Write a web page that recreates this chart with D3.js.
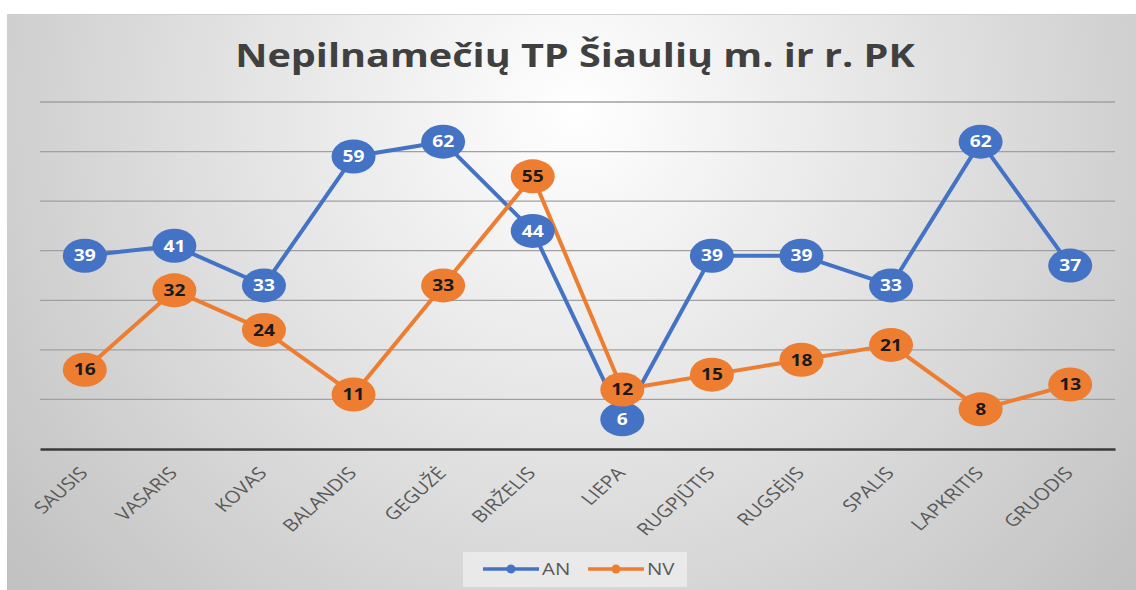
<!DOCTYPE html>
<html>
<head>
<meta charset="utf-8">
<script src="https://cdn.jsdelivr.net/npm/d3@7"></script>
<style>
  body { margin: 0; background: #fff; }
  svg { display: block; font-family: "Open Sans", "Liberation Sans", sans-serif; }
</style>
</head>
<body>
<div id="chart"></div>
<script>
var svgWidth = 1136;
var svgHeight = 590;

var margin = { top: 102, right: 21, bottom: 141, left: 40 };
var width = svgWidth - margin.left - margin.right;
var height = svgHeight - margin.top - margin.bottom;

// data
var months = ["SAUSIS", "VASARIS", "KOVAS", "BALANDIS", "GEGUŽĖ", "BIRŽELIS",
  "LIEPA", "RUGPJŪTIS", "RUGSĖJIS", "SPALIS", "LAPKRITIS", "GRUODIS"];
var anValues = [39, 41, 33, 59, 62, 44, 6, 39, 39, 33, 62, 37];
var nvValues = [16, 32, 24, 11, 33, 55, 12, 15, 18, 21, 8, 13];
var yTicks = [10, 20, 30, 40, 50, 60, 70];

var series = [
  { name: "AN", values: anValues, color: "#4472C4", labelColor: "#ffffff" },
  { name: "NV", values: nvValues, color: "#ED7D31", labelColor: "#1a1a1a" }
];

// the original picture is stretched sideways a little
var stretch = 1.2;

var svg = d3.select("#chart")
  .append("svg")
  .attr("width", svgWidth)
  .attr("height", svgHeight);

// background gradient
var defs = svg.append("defs");
var grad = defs.append("radialGradient")
  .attr("id", "bg")
  .attr("gradientUnits", "userSpaceOnUse")
  .attr("cx", 575).attr("cy", 110).attr("r", 720);
grad.append("stop").attr("offset", "0%").attr("stop-color", "#ffffff");
grad.append("stop").attr("offset", "45%").attr("stop-color", "#e4e4e4");
grad.append("stop").attr("offset", "100%").attr("stop-color", "#c2c2c2");

svg.append("rect")
  .attr("x", 7).attr("y", 14)
  .attr("width", svgWidth - 7).attr("height", svgHeight - 14)
  .attr("fill", "url(#bg)");
svg.append("line")
  .attr("x1", 7).attr("x2", svgWidth).attr("y1", 14.5).attr("y2", 14.5)
  .attr("stroke", "#d0d0d0").attr("stroke-width", 1);

// title
svg.append("text")
  .attr("transform", `translate(575, 67) scale(${stretch}, 1)`)
  .attr("text-anchor", "middle")
  .attr("font-size", 33)
  .attr("font-weight", "bold")
  .attr("fill", "#404040")
  .text("Nepilnamečių TP Šiaulių m. ir r. PK");

var chartGroup = svg.append("g")
  .attr("transform", `translate(${margin.left}, ${margin.top})`);

var xScale = d3.scaleBand()
  .domain(months)
  .range([0, width]);

var yScale = d3.scaleLinear()
  .domain([0, 70])
  .range([height, 0]);

// gridlines
chartGroup.append("g")
  .selectAll("line")
  .data(yTicks)
  .enter()
  .append("line")
  .attr("x1", 0).attr("x2", width)
  .attr("y1", d => yScale(d)).attr("y2", d => yScale(d))
  .attr("stroke", "#a0a0a0")
  .attr("stroke-width", 1.3);

// x axis
var bottomAxis = d3.axisBottom(xScale).tickSize(0).tickPadding(0);
var xAxis = chartGroup.append("g")
  .attr("transform", `translate(0, ${height})`)
  .call(bottomAxis);
xAxis.select(".domain")
  .attr("stroke", "#3a3a3a")
  .attr("stroke-width", 2.5);
xAxis.selectAll("text")
  .attr("font-family", "Open Sans, sans-serif")
  .attr("font-size", 17)
  .attr("fill", "#595959")
  .attr("text-anchor", "end")
  .attr("dy", 0)
  .attr("transform", `translate(4, 25) scale(${stretch}, 1) rotate(-47)`);

// lines
var line = d3.line()
  .x((d, i) => xScale(months[i]) + xScale.bandwidth() / 2)
  .y(d => yScale(d));

chartGroup.selectAll(".series-line")
  .data(series)
  .enter()
  .append("path")
  .attr("class", "series-line")
  .attr("d", d => line(d.values))
  .attr("fill", "none")
  .attr("stroke", d => d.color)
  .attr("stroke-width", 4)
  .attr("stroke-linejoin", "round");

// labels in ellipses
series.forEach(function(s) {
  var g = chartGroup.append("g")
    .selectAll("g")
    .data(s.values)
    .enter()
    .append("g")
    .attr("transform", (d, i) => `translate(${xScale(months[i]) + xScale.bandwidth() / 2}, ${yScale(d)})`);

  g.append("ellipse")
    .attr("rx", 22)
    .attr("ry", 17)
    .attr("fill", s.color);

  g.append("text")
    .text(d => d)
    .attr("text-anchor", "middle")
    .attr("dy", "0.36em")
    .attr("transform", `scale(${stretch}, 1)`)
    .attr("font-size", 16)
    .attr("font-weight", "bold")
    .attr("fill", s.labelColor);
});

// legend
var legend = svg.append("g").attr("transform", "translate(463, 552)");
legend.append("rect")
  .attr("width", 224).attr("height", 35)
  .attr("fill", "#ececec")
  .attr("opacity", 0.85);

var item = legend.selectAll(".item")
  .data(series)
  .enter()
  .append("g")
  .attr("class", "item")
  .attr("transform", (d, i) => `translate(${20 + i * 105}, 17)`);

item.append("line")
  .attr("x1", 0).attr("x2", 56)
  .attr("stroke", d => d.color)
  .attr("stroke-width", 3.5);
item.append("circle")
  .attr("cx", 28).attr("r", 4.5)
  .attr("fill", d => d.color);
item.append("text")
  .attr("transform", `translate(59, 0) scale(${stretch}, 1)`)
  .attr("dy", "0.36em")
  .attr("font-size", 17)
  .attr("fill", "#595959")
  .text(d => d.name);
</script>
</body>
</html>
